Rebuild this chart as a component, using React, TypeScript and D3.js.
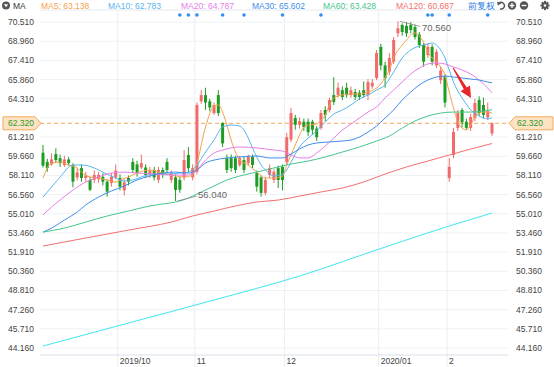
import React from "react";
import * as d3 from "d3";

const WIDTH = 554;
const HEIGHT = 367;
const PLOT = { left: 40, right: 508, top: 10, bottom: 355 };
const FONT = "'Liberation Sans', Arial, sans-serif";

// daily candles, 2019-09-04 .. 2020-02-17
const open = [
  59.95, 59.2, 59.0, 59.84, 59.5, 58.95, 59.4, 58.95, 57.95, 58.7, 57.9, 57.74, 57.75, 57.8, 58.0, 57.6, 57.5, 57.95,
  57.9, 56.9, 57.9, 59.2, 59.0, 58.75, 58.75, 58.2, 58.55, 57.75, 58.55, 59.2, 57.75, 57.95, 57.75, 57.95, 59.76, 57.95,
  58.4, 64.1, 64.6, 64.1, 63.15, 64.6, 62.35, 59.5, 59.5, 59.5, 58.95, 59.35, 59.1, 59.6, 58.3, 57.95, 56.7, 58.15, 57.74, 58.7, 58.8,
  59.2, 61.0, 62.75, 62.2, 62.45, 62.45, 62.45, 61.9, 61.95, 63.4, 63.4, 64.6, 64.6, 65.0, 65.2, 64.6, 64.85, 64.8, 65.0, 64.6, 65.3, 65.98,
  68.5, 67.0, 66.5, 67.3, 69.6, 70.27, 70.2, 70.27, 70.1, 69.5, 68.65, 67.84, 68.5, 67.0, 65.8, 66.1,
  57.9, 59.76, 61.95, 63.4, 62.45, 61.95, 62.75, 64.21, 63.8, 62.8, 61.5,
];
const high = [
  60.57, 59.45, 59.9, 60.3, 59.8, 59.7, 59.6, 59.1, 58.7, 59.0, 58.4, 58.0, 58.5, 58.4, 58.3, 57.8, 58.3, 59.0,
  58.2, 57.8, 58.1, 59.5, 59.3, 59.8, 59.0, 58.8, 58.8, 58.8, 58.75, 59.5, 58.5, 58.2, 58.0, 60.16, 60.4, 59.0,
  64.0, 65.0, 65.2, 64.3, 64.0, 65.0, 62.4, 59.8, 59.8, 59.7, 59.7, 59.6, 59.8, 59.8, 58.5, 58.1, 58.0, 59.0, 58.6, 58.9, 59.0,
  61.55, 63.55, 63.0, 62.8, 62.7, 62.7, 62.6, 62.1, 63.4, 63.7, 64.4, 66.05, 65.6, 65.3, 65.6, 65.3, 65.1, 65.0, 65.7, 65.9, 65.9, 68.25,
  68.75, 67.3, 68.0, 69.3, 70.56, 70.4, 70.5, 70.5, 70.3, 69.7, 68.8, 68.8, 68.7, 68.3, 66.9, 66.3,
  59.5, 61.95, 63.4, 63.55, 62.7, 63.1, 64.3, 64.5, 64.4, 64.0, 62.4,
];
const low = [
  58.75, 58.4, 58.9, 59.1, 58.8, 58.8, 58.9, 57.15, 57.7, 57.6, 57.6, 56.85, 57.5, 57.5, 57.3, 56.4, 57.2, 57.8,
  56.9, 56.5, 57.3, 58.3, 58.0, 58.6, 57.9, 57.9, 57.7, 57.5, 57.9, 58.3, 57.5, 56.04, 56.7, 57.7, 58.4, 57.7,
  58.2, 63.9, 63.4, 63.3, 63.0, 62.9, 60.4, 58.3, 58.4, 58.3, 58.8, 58.3, 58.9, 58.7, 56.8, 56.4, 56.5, 57.9, 57.5, 57.1, 56.9,
  59.0, 60.8, 61.8, 61.9, 61.7, 61.3, 61.4, 60.9, 61.8, 62.5, 63.2, 63.8, 64.4, 64.2, 64.4, 64.4, 64.2, 64.2, 64.4, 64.2, 65.1, 65.8,
  66.6, 65.2, 66.2, 67.1, 69.3, 69.4, 69.3, 69.6, 69.1, 68.4, 66.9, 67.6, 67.0, 66.8, 65.5, 63.6,
  57.6, 59.5, 61.7, 62.0, 61.8, 61.7, 62.5, 62.9, 62.7, 62.6, 61.3,
];
const close = [
  58.9, 58.7, 59.4, 59.35, 59.1, 59.4, 59.1, 57.6, 58.35, 57.9, 58.1, 56.95, 58.15, 58.15, 57.6, 56.8, 58.0, 58.5,
  57.2, 57.55, 57.6, 58.55, 58.3, 59.1, 58.15, 58.5, 57.95, 58.55, 58.15, 58.55, 58.3, 56.93, 56.95, 59.35, 58.7, 58.7,
  63.8, 64.6, 64.0, 63.6, 63.8, 63.15, 60.7, 58.55, 58.7, 58.55, 59.5, 58.55, 59.6, 58.95, 57.2, 56.7, 57.75, 58.7, 58.4, 57.74, 57.74,
  61.2, 63.15, 62.2, 62.5, 62.0, 61.6, 61.8, 61.2, 63.15, 63.0, 64.2, 64.05, 65.2, 64.45, 64.6, 65.0, 64.45, 64.45, 64.6, 65.65, 65.6, 68.0,
  67.0, 65.98, 67.6, 69.05, 70.0, 69.7, 69.6, 69.86, 69.3, 68.65, 67.3, 68.5, 67.3, 68.1, 66.6, 64.0,
  58.8, 61.62, 63.15, 62.4, 61.95, 62.83, 63.96, 63.15, 63.0, 63.3, 62.32,
];

// moving averages: [day index, value]
const ma5 = [
  [0, 57.9], [2, 59.11], [4, 59.19], [6, 58.95], [8, 58.71], [9, 58.38], [11, 57.98], [13, 57.9], [15, 57.74], [17, 57.58],
  [18, 57.74], [20, 57.98], [22, 58.3], [25, 58.55], [27, 58.38], [29, 58.22], [31, 58.06], [33, 57.98], [35, 58.14],
  [36, 59.11], [38, 62.02], [40, 63.72], [41, 63.8], [42, 63.23], [43, 62.18], [44, 60.97], [45, 60.0], [46, 59.35],
  [48, 58.95], [50, 58.38], [52, 57.9], [54, 57.9], [56, 58.06], [57, 58.95], [58, 59.76], [59, 60.57], [60, 61.38],
  [61, 62.02], [62, 62.18], [64, 62.26], [65, 62.59], [66, 62.99], [67, 63.8], [68, 64.37], [70, 64.61], [72, 64.69],
  [74, 64.69], [76, 64.85], [78, 65.17], [79, 65.5], [80, 66.06], [81, 66.63], [82, 67.6], [84, 68.65], [85, 69.05],
  [86, 69.46], [87, 69.62], [88, 69.38], [89, 68.89], [90, 68.08], [91, 67.6], [92, 67.28], [93, 66.87], [94, 66.22],
  [95, 64.85], [96, 63.56], [97, 62.43], [98, 61.94], [99, 61.78], [100, 62.18], [101, 62.83], [102, 63.15],
  [103, 63.23], [104, 63.23], [105, 63.138],
];
const ma10 = [
  [0, 56.36], [2, 57.17], [4, 57.98], [7, 58.95], [9, 58.95], [12, 58.71], [14, 58.38], [17, 57.9], [19, 57.66],
  [21, 57.74], [23, 57.98], [26, 58.22], [29, 58.22], [32, 58.3], [34, 58.38], [36, 58.95], [38, 60.0], [40, 60.97],
  [42, 62.02], [44, 62.18], [46, 62.1], [47, 61.78], [48, 61.13], [49, 60.33], [50, 59.6], [51, 58.95], [52, 58.55],
  [54, 58.06], [56, 58.22], [57, 58.55], [58, 59.19], [59, 59.84], [60, 60.41], [62, 61.13], [64, 61.7], [66, 62.43],
  [68, 63.07], [70, 63.4], [72, 63.8], [74, 64.29], [76, 64.61], [78, 65.01], [80, 65.42], [82, 66.47], [84, 67.6],
  [86, 68.25], [88, 68.57], [90, 68.73], [91, 68.81], [92, 68.65], [93, 68.25], [94, 67.6], [95, 66.63], [96, 65.66],
  [97, 64.93], [98, 64.37], [99, 63.88], [100, 63.4], [101, 63.15], [102, 62.91], [103, 62.75], [104, 62.67], [105, 62.783],
];
const ma20 = [
  [0, 54.91], [2, 55.56], [4, 56.12], [7, 56.93], [10, 57.58], [13, 57.98], [16, 58.3], [19, 58.38], [22, 58.3],
  [26, 58.22], [30, 58.14], [34, 58.14], [36, 58.55], [38, 59.35], [40, 59.92], [42, 60.16], [46, 60.41], [50, 60.33],
  [54, 60.16], [56, 60.08], [58, 59.76], [60, 59.52], [62, 59.52], [64, 59.92], [66, 60.49], [68, 61.13], [70, 61.78],
  [72, 62.26], [74, 62.75], [76, 63.23], [78, 63.64], [80, 64.37], [82, 65.01], [84, 65.66], [86, 66.31], [88, 66.79],
  [90, 67.12], [92, 67.2], [94, 67.12], [96, 66.87], [98, 66.63], [100, 66.31], [102, 65.82], [104, 65.17], [105, 64.787],
];
const ma30 = [
  [0, 53.53], [2, 53.85], [5, 54.5], [8, 55.15], [10, 55.72], [13, 56.36], [16, 56.85], [19, 57.25], [22, 57.74],
  [25, 58.06], [28, 58.3], [31, 58.38], [34, 58.3], [36, 58.55], [38, 59.11], [40, 59.35], [43, 59.52], [46, 59.6],
  [50, 59.68], [53, 59.52], [56, 59.52], [58, 59.84], [60, 60.24], [62, 60.57], [64, 60.73], [67, 60.81], [70, 60.89],
  [72, 60.97], [74, 61.21], [76, 61.62], [78, 62.1], [80, 62.75], [82, 63.4], [84, 64.21], [86, 64.85], [88, 65.42],
  [90, 65.82], [92, 66.06], [94, 66.14], [96, 66.06], [98, 65.98], [100, 65.9], [102, 65.82], [104, 65.66], [105, 65.602],
];
const ma60 = [
  [0, 53.53], [5, 53.85], [10, 54.34], [15, 54.83], [20, 55.23], [25, 55.64], [28, 55.8], [31, 55.96], [34, 56.28],
  [37, 56.77], [40, 57.25], [43, 57.74], [46, 58.06], [50, 58.38], [54, 58.71], [58, 59.03], [62, 59.27], [66, 59.6],
  [70, 60.0], [74, 60.41], [78, 60.89], [81, 61.29], [84, 61.94], [87, 62.51], [90, 62.91], [93, 63.15], [96, 63.23],
  [100, 63.23], [103, 63.31], [105, 63.428],
];
const ma120 = [
  [0, 52.4], [10, 53.05], [20, 53.69], [30, 54.34], [35, 54.83], [40, 55.23], [45, 55.64], [50, 55.96], [55, 56.12],
  [60, 56.44], [65, 56.77], [70, 57.09], [75, 57.58], [80, 58.22], [85, 58.79], [90, 59.27], [95, 59.76], [100, 60.24],
  [105, 60.687],
];
const ma250 = [
  [0, 44.32], [20, 46.18], [40, 48.04], [60, 49.98], [80, 52.32], [95, 54.02], [105, 55.07],
];

const maNames = ["MA5", "MA10", "MA20", "MA30", "MA60", "MA120"];
const maValues = ["63.138", "62.783", "64.787", "65.602", "63.428", "60.687"];
const maColors = ["#f5a14c", "#58b5ee", "#e67ee6", "#3f8de8", "#46c68a", "#f26f6f"];
const legendX = [41, 108, 181, 252, 323, 396];

const yTicks = [
  70.51, 68.96, 67.41, 65.86, 64.31, 62.76, 61.21, 59.66, 58.11, 56.56, 55.01, 53.46, 51.91, 50.36, 48.81, 47.26, 45.71, 44.16,
];
const monthIndex = [18, 36, 57, 79, 95];
const monthLabel = ["2019/10", "11", "12", "2020/01", "2"];
const eventIndex = [32, 34, 36, 42, 47, 56, 65, 90, 91, 95, 104];
// red arrow drawn on the chart: [day index, price]
const arrowFrom = [95.9, 66.8];
const arrowTo = [100.1, 64.37];

const UP = "#f26b6b";
const DOWN = "#1f9c24";

export default function App() {
  const x = d3.scaleLinear().domain([0, 105]).range([43, 492]);
  const y = d3.scaleLinear().domain([44.16, 70.51]).range([348, 22]);
  const step = x(1) - x(0);
  const fmt = d3.format(".3f");

  const line = d3
    .line<number[]>()
    .x((d) => x(d[0]))
    .y((d) => y(d[1]))
    .curve(d3.curveMonotoneX);

  const last = close[close.length - 1];
  const yLast = y(last);

  const maxIdx = d3.maxIndex(high);
  const minIdx = d3.minIndex(low);

  // the price tag hides the tick label it sits on
  const labelTicks = yTicks.filter((t) => Math.abs(y(t) - yLast) > 9);

  // arrow annotation
  const ax0 = x(arrowFrom[0]), ay0 = y(arrowFrom[1]);
  const ax1 = x(arrowTo[0]), ay1 = y(arrowTo[1]);
  const len = Math.hypot(ax1 - ax0, ay1 - ay0);
  const ux = (ax1 - ax0) / len, uy = (ay1 - ay0) / len;
  const px = -uy, py = ux;
  const bx = ax0 + ux * len * 0.68, by = ay0 + uy * len * 0.68;
  const arrowPath = [
    [ax0 + px * 0.5, ay0 + py * 0.5],
    [bx + px * 1.8, by + py * 1.8],
    [bx + px * 5.5, by + py * 5.5],
    [ax1, ay1],
    [bx - px * 5.5, by - py * 5.5],
    [bx - px * 1.8, by - py * 1.8],
    [ax0 - px * 0.5, ay0 - py * 0.5],
  ]
    .map((p, i) => (i === 0 ? "M" : "L") + p[0].toFixed(1) + "," + p[1].toFixed(1))
    .join("") + "Z";

  const candles = close.map((c, i) => {
    const o = open[i];
    const up = c >= o;
    const color = up ? UP : DOWN;
    const cx = x(i);
    const top = y(Math.max(o, c));
    const bot = y(Math.min(o, c));
    return (
      <g key={i}>
        <line x1={cx} x2={cx} y1={y(high[i])} y2={y(low[i])} stroke={color} strokeWidth={1} />
        <rect x={cx - 1.5} y={top} width={3} height={Math.max(1, bot - top)} fill={color} />
      </g>
    );
  });

  const maSeries = [ma5, ma10, ma20, ma30, ma60, ma120];

  return (
    <svg
      width={WIDTH}
      height={HEIGHT}
      style={{ position: "absolute", left: 0, top: 0, background: "#fff", fontFamily: FONT }}
    >
      {/* grid */}
      {yTicks.map((t) => (
        <line key={t} x1={PLOT.left} x2={PLOT.right} y1={y(t)} y2={y(t)} stroke="#eef1f5" />
      ))}
      {monthIndex.map((m) => (
        <line key={m} x1={x(m) - step / 2} x2={x(m) - step / 2} y1={PLOT.top} y2={HEIGHT} stroke="#eaeef3" />
      ))}
      <line x1={PLOT.left} x2={PLOT.right} y1={PLOT.top} y2={PLOT.top} stroke="#e4e9ef" />
      <line x1={PLOT.left} x2={PLOT.right} y1={PLOT.bottom} y2={PLOT.bottom} stroke="#d9e0e8" />

      {/* y labels */}
      {labelTicks.map((t) => (
        <g key={"l" + t} fontSize={8.5} fill="#444">
          <text x={34} y={y(t)} dy="0.35em" textAnchor="end">{fmt(t)}</text>
          <text x={516} y={y(t)} dy="0.35em">{fmt(t)}</text>
        </g>
      ))}

      {/* x labels */}
      {monthIndex.map((m, i) => (
        <text key={"m" + m} x={x(m) - step / 2 + 2} y={364} fontSize={8.5} fill="#444">
          {monthLabel[i]}
        </text>
      ))}

      {/* last price line */}
      <line x1={PLOT.left} x2={PLOT.right} y1={yLast} y2={yLast} stroke="#f3a95b" strokeDasharray="4 3" />

      {candles}

      <path d={line(ma250 as any) || ""} fill="none" stroke="#3fe6f0" strokeWidth={1} />
      {maSeries.map((s, i) => (
        <path key={maNames[i]} d={line(s as any) || ""} fill="none" stroke={maColors[i]} strokeWidth={1} />
      ))}

      {/* high / low markers */}
      <line x1={x(maxIdx) + 2} y1={y(high[maxIdx])} x2={x(maxIdx) + 22} y2={y(high[maxIdx]) + 5} stroke="#888" strokeWidth={0.8} />
      <text x={x(maxIdx) + 24} y={y(high[maxIdx]) + 10} fontSize={9.5} fill="#666">{fmt(high[maxIdx])}</text>
      <line x1={x(minIdx) + 2} y1={y(low[minIdx])} x2={x(minIdx) + 21} y2={y(low[minIdx]) - 5} stroke="#888" strokeWidth={0.8} />
      <text x={x(minIdx) + 22.5} y={y(low[minIdx]) - 3} fontSize={9.5} fill="#666">{fmt(low[minIdx])}</text>

      <path d={arrowPath} fill="#e8262a" />

      {/* price tags */}
      <path
        d={`M3,${yLast - 6.5}L35,${yLast - 6.5}L41,${yLast}L35,${yLast + 6.5}L3,${yLast + 6.5}Z`}
        fill="#fde3c3"
        stroke="#f3a95b"
      />
      <text x={8} y={yLast} dy="0.35em" fontSize={8.5} fill="#2f9a2f">{fmt(last)}</text>
      <path
        d={`M509,${yLast}L515,${yLast - 6.5}L553,${yLast - 6.5}L553,${yLast + 6.5}L515,${yLast + 6.5}Z`}
        fill="#fde3c3"
        stroke="#f3a95b"
      />
      <text x={517} y={yLast} dy="0.35em" fontSize={8.5} fill="#2f9a2f">{fmt(last)}</text>

      {/* event dots */}
      {eventIndex.map((e) => (
        <circle key={"e" + e} cx={x(e)} cy={15} r={1.8} fill="#2f8ef0" />
      ))}

      {/* legend */}
      <circle cx={6} cy={5.5} r={4} fill="#555" />
      <path d="M3.8,4.3L8.2,4.3L6,7.2Z" fill="#fff" />
      <text x={13} y={8.5} fontSize={8.5} fill="#333">MA</text>
      {maNames.map((n, i) => (
        <text key={"lg" + n} x={legendX[i]} y={8.5} fontSize={8.5} fill={maColors[i]}>
          {n}: {maValues[i]}
        </text>
      ))}
      <text x={468} y={9} fontSize={9} fill="#2b7de0">前复权</text>

      {/* toolbar icons */}
      <g stroke="#555" fill="none" strokeWidth={1.4}>
        <path d="M499,3.2 A3.3,3.3 0 1 1 500,8.8" />
      </g>
      <path d="M497,1.5L501.3,3.6L497.8,5.6Z" fill="#555" />
      <circle cx={512} cy={5.5} r={4.2} fill="#555" />
      <path d="M509.6,5.5H514.4M512,3.1V7.9" stroke="#fff" strokeWidth={1.3} />
      <circle cx={524} cy={5.5} r={4.2} fill="#555" />
      <path d="M521.6,5.5H526.4" stroke="#fff" strokeWidth={1.3} />
      <g transform="translate(545,5.5)">
        {d3.range(8).map((k) => (
          <rect key={k} x={-1} y={-4.6} width={2} height={2.2} fill="#555" transform={`rotate(${k * 45})`} />
        ))}
        <circle r={3.2} fill="#555" />
        <circle r={1.3} fill="#fff" />
      </g>
    </svg>
  );
}
